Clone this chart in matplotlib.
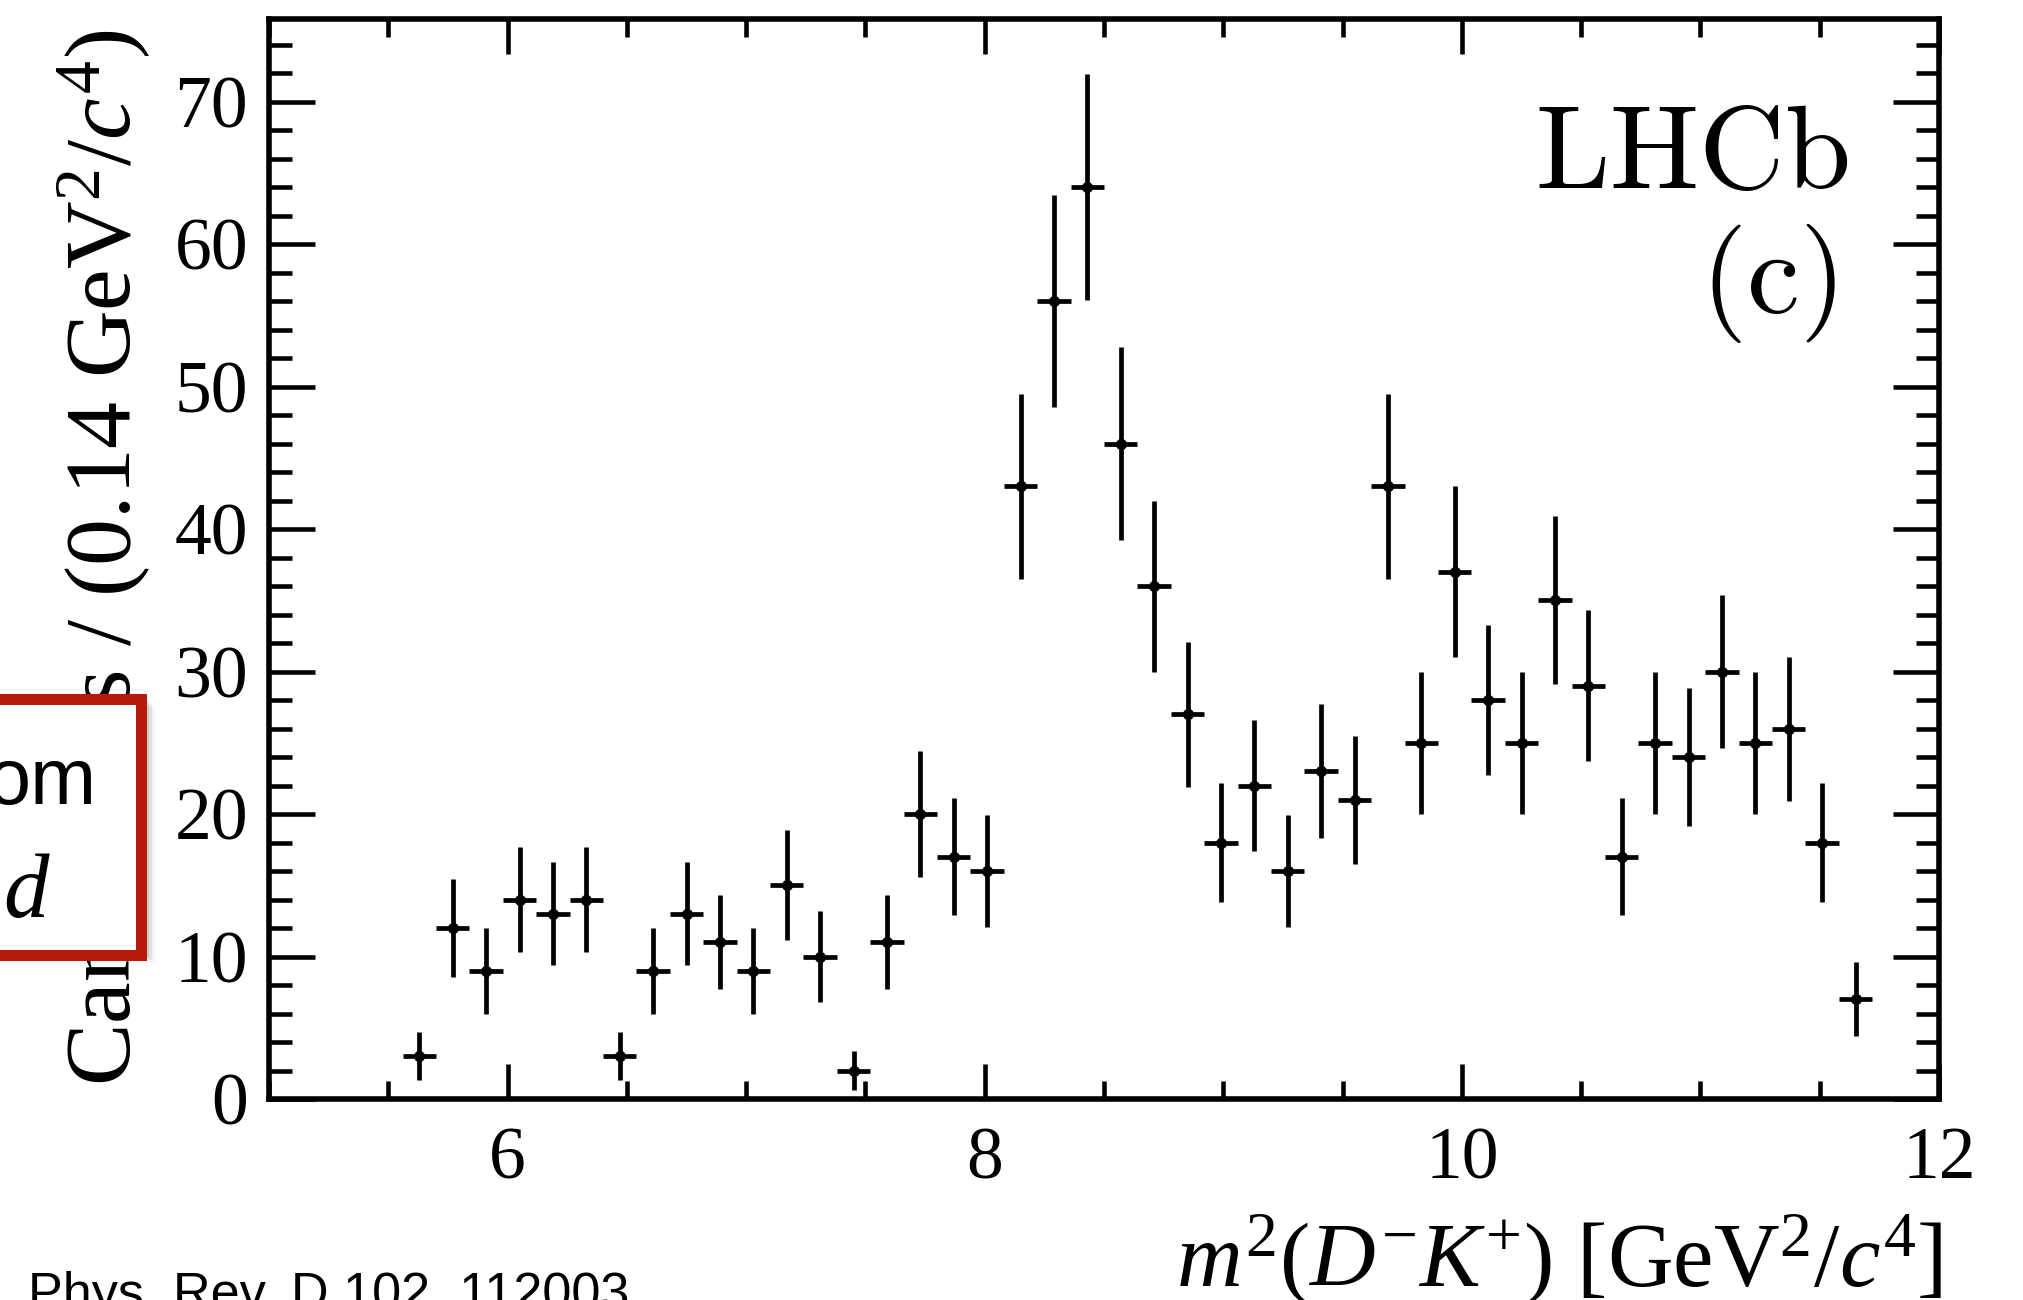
import numpy as np
import matplotlib
matplotlib.use("Agg")
import matplotlib.pyplot as plt
from matplotlib.patches import Rectangle
from matplotlib.ticker import MultipleLocator

# ── Style: ROOT / LHCb look ──────────────────────────────────────────────
plt.rcParams.update({
    "font.family": ["Liberation Serif", "DejaVu Serif"],
    "mathtext.fontset": "custom",
    "mathtext.rm": "Liberation Serif",
    "mathtext.it": "Liberation Serif:italic",
    "mathtext.bf": "Liberation Serif:bold",
})

W, H = 2023, 1300
BOX_RED = "#B51A0B"

# ── Data: m^2(D-K+) candidates, 0.14 GeV^2/c^4 bins ──────────────────────
bin_centers = [5.63, 5.77, 5.91, 6.05, 6.19, 6.33, 6.47, 6.61, 6.75, 6.89,
               7.03, 7.17, 7.31, 7.45, 7.59, 7.73, 7.87, 8.01, 8.15, 8.29,
               8.43, 8.57, 8.71, 8.85, 8.99, 9.13, 9.27, 9.41, 9.55, 9.69,
               9.83, 9.97, 10.11, 10.25, 10.39, 10.53, 10.67, 10.81, 10.95, 11.09,
               11.23, 11.37, 11.51, 11.65]
counts = [3, 12, 9, 14, 13, 14, 3, 9, 13, 11,
          9, 15, 10, 2, 11, 20, 17, 16, 43, 56,
          64, 46, 36, 27, 18, 22, 16, 23, 21, 43,
          25, 37, 28, 25, 35, 29, 17, 25, 24, 30,
          25, 26, 18, 7]
count_err = [1.7, 3.45, 3.0, 3.7, 3.6, 3.7, 1.7, 3.0, 3.6, 3.3,
             3.0, 3.85, 3.2, 1.4, 3.3, 4.45, 4.1, 3.95, 6.5, 7.45,
             7.95, 6.75, 6.0, 5.1, 4.2, 4.6, 3.95, 4.7, 4.5, 6.5,
             5.0, 6.0, 5.25, 5.0, 5.9, 5.3, 4.1, 5.0, 4.85, 5.4,
             5.0, 5.05, 4.2, 2.6]
bin_half_width = 0.07

x_label = r"$m^{2}$($D^{-}K^{+}$) [GeV$^{2}$/$c^{4}$]"
y_label = r"Candidates / (0.14 GeV$^{2}$/$c^{4}$)"
citation = "Phys. Rev. D 102, 112003"


def fx(px):
    return px / W


def fy(py):
    return 1 - py / H


# ── Figure ────────────────────────────────────────────────────────────────
fig = plt.figure(figsize=(W / 100, H / 100), dpi=100)
ax = fig.add_axes([fx(269), fy(1099), fx(1939) - fx(269), fy(19) - fy(1099)])

ax.errorbar(bin_centers, counts, xerr=bin_half_width, yerr=count_err,
            fmt="o", color="black", markersize=7, elinewidth=3.4,
            capsize=0, zorder=3)

ax.set_xlim(5, 12)
ax.set_ylim(0, 75.8)
ax.xaxis.set_major_locator(MultipleLocator(2))
ax.xaxis.set_minor_locator(MultipleLocator(0.5))
ax.yaxis.set_major_locator(MultipleLocator(10))
ax.yaxis.set_minor_locator(MultipleLocator(2))

for s in ax.spines.values():
    s.set_linewidth(4)
ax.tick_params(which="both", direction="in", top=True, right=True,
               width=3.3, labelsize=53)
ax.tick_params(axis="x", which="major", length=25, pad=20)
ax.tick_params(axis="x", which="minor", length=13)
ax.tick_params(axis="y", which="major", length=33, pad=15)
ax.tick_params(axis="y", which="minor", length=16.5)

# axis titles (right-aligned, ROOT style)
fig.text(fx(1943), fy(1286), x_label, fontsize=65.5, ha="right", va="baseline")
fig.text(fx(131), fy(30), y_label, fontsize=67.5, rotation=90,
         rotation_mode="anchor", ha="right", va="baseline")

# experiment label
ax.text(fx(1849), fy(188), r"$\mathrm{LHCb}$", transform=fig.transFigure,
        fontsize=85.7, math_fontfamily="cm", ha="right", va="baseline")
ax.text(fx(1836), fy(313), r"$\mathrm{(c)}$", transform=fig.transFigure,
        fontsize=85.7, math_fontfamily="cm", ha="right", va="baseline")

# ── Annotation box cut at the left edge ──────────────────────────────────
for k, a in enumerate([0.10, 0.07, 0.04]):
    off = 3 + 3 * k
    fig.add_artist(Rectangle((fx(-300), fy(954 + off)), fx(446 + off), fy(698) - fy(954),
                             transform=fig.transFigure, facecolor="black",
                             edgecolor="none", alpha=a, zorder=4))
fig.add_artist(Rectangle((fx(-300), fy(954.5)), fx(440.5), fy(698.5) - fy(954.5),
                         transform=fig.transFigure, facecolor="white",
                         edgecolor=BOX_RED, linewidth=7.9, zorder=5))
fig.text(fx(97), fy(804), "om", fontsize=57, family=["Liberation Sans", "DejaVu Sans"],
         ha="right", va="baseline", zorder=6)
fig.text(fx(51), fy(917), r"$d$", fontsize=65.5, ha="right", va="baseline", zorder=6)

# reference line at the bottom
fig.text(fx(28), fy(1309), citation, fontsize=37.6,
         family=["Liberation Sans", "DejaVu Sans"], ha="left", va="baseline")

fig.savefig("out.png", dpi=100)
plt.close(fig)
